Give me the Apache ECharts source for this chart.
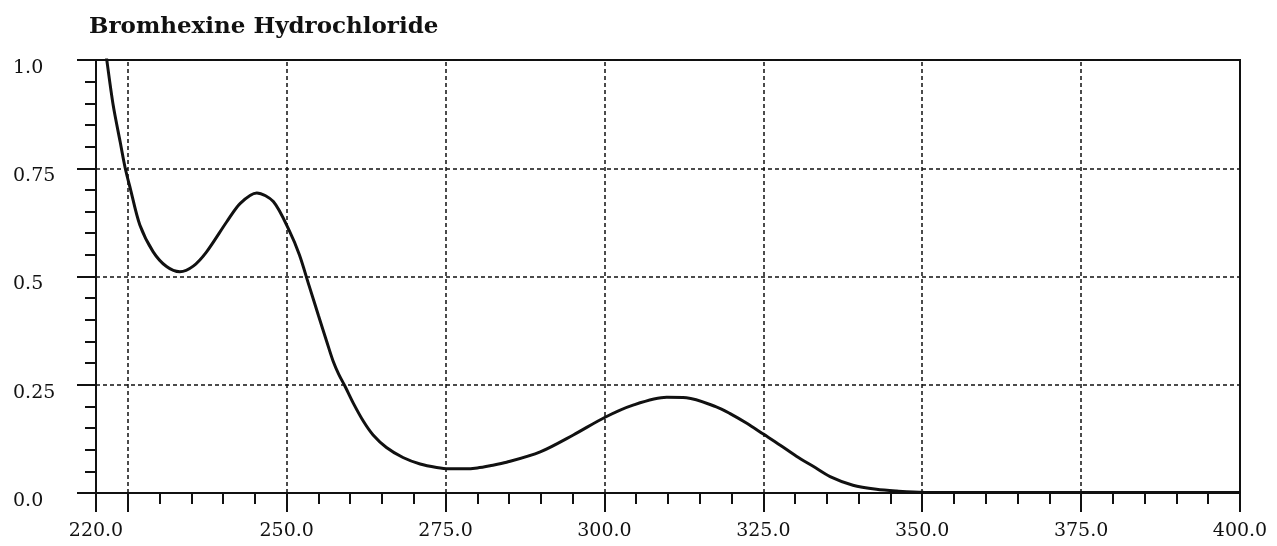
<!DOCTYPE html>
<html>
<head>
<meta charset="utf-8">
<title>Bromhexine Hydrochloride</title>
<script src="https://cdn.jsdelivr.net/npm/echarts@6/dist/echarts.min.js"></script>
<style>
  html, body { margin: 0; padding: 0; background: #fff; }
  #spectrum { width: 1277px; height: 546px; }
</style>
</head>
<body>
<div id="spectrum"></div>
<script>
// absorbance spectrum
var wavelength = [221.2, 221.7, 222.7, 223.8, 224.6, 225.4, 226.9, 229.0, 231.1, 233.2,
    235.3, 237.4, 240.6, 242.7, 245.3, 247.9, 250.5, 252.0, 253.5, 255.0,
    256.3, 257.3, 258.2, 259.2, 260.5, 262.1, 263.6, 265.7, 268.3, 271.0,
    273.6, 275.5, 278.0, 280.0, 282.0, 284.6, 289.9, 295.1, 300.1, 304.5,
    309.8, 312.9, 317.6, 319.7, 322.4, 325.0, 327.6, 330.2, 332.9, 335.5,
    339.1, 342.8, 346.0, 350.2, 360.0, 375.0, 400.0];
var absorbance = [1.06, 1.0, 0.896, 0.811, 0.75, 0.703, 0.619, 0.557, 0.523, 0.511,
    0.524, 0.557, 0.627, 0.669, 0.693, 0.673, 0.603, 0.55, 0.48, 0.41,
    0.35, 0.305, 0.274, 0.246, 0.207, 0.165, 0.134, 0.105, 0.082, 0.067,
    0.059, 0.056, 0.056, 0.058, 0.063, 0.071, 0.095, 0.134, 0.175, 0.203,
    0.221, 0.22, 0.199, 0.184, 0.161, 0.136, 0.111, 0.085, 0.061, 0.038,
    0.018, 0.0085, 0.0046, 0.0016, 0.0012, 0.0012, 0.0012];

var xLabelValues = [220, 250, 275, 300, 325, 350, 375, 400];
var xMajorTicks = [220, 225, 250, 275, 300, 325, 350, 375, 400];
var xGridLines = [225, 250, 275, 300, 325, 350, 375];

var serif = 'DejaVu Serif';
var black = '#111';

var chart = echarts.init(document.getElementById('spectrum'));
chart.setOption({
    animation: false,
    title: {
        text: 'Bromhexine Hydrochloride',
        left: 84,
        top: 11,
        textStyle: { fontFamily: serif, fontWeight: 'bold', fontSize: 23, color: black }
    },
    grid: {
        left: 96, right: 37, top: 60, bottom: 53,
        show: true, borderColor: black, borderWidth: 2
    },
    xAxis: [{
        type: 'value',
        min: 220, max: 400, interval: 5,
        axisLine: { lineStyle: { color: black, width: 2 } },
        axisTick: { length: 11, lineStyle: { color: black, width: 2 } },
        axisLabel: {
            margin: 29,
            fontFamily: serif, fontSize: 19, color: black,
            formatter: function (v) {
                return xLabelValues.indexOf(v) >= 0 ? v.toFixed(1) : '';
            }
        },
        splitLine: { show: false }
    }, {
        type: 'value',
        position: 'bottom',
        min: 220, max: 400,
        axisLine: { show: false },
        axisTick: { show: true, length: 19, customValues: xMajorTicks, lineStyle: { color: black, width: 2 } },
        axisLabel: { show: false },
        splitLine: { show: false }
    }],
    yAxis: {
        type: 'value',
        min: 0, max: 1, interval: 0.25,
        axisLine: { show: true, lineStyle: { color: black, width: 2 } },
        axisTick: { show: true, length: 19, lineStyle: { color: black, width: 2 } },
        minorTick: { show: true, splitNumber: 5, length: 11, lineStyle: { color: black, width: 2 } },
        axisLabel: {
            align: 'left',
            verticalAlign: 'top',
            lineHeight: 16,
            margin: 83,
            fontFamily: serif, fontSize: 19, color: black,
            formatter: function (v) {
                return (v === 0 || v === 1) ? v.toFixed(1) : String(v);
            }
        },
        splitLine: { show: true, lineStyle: { color: black, width: 1.5, type: [4, 3] } }
    },
    series: [{
        type: 'line',
        data: wavelength.map(function (w, i) { return [w, absorbance[i]]; }),
        showSymbol: false,
        smooth: 0.3,
        clip: true,
        lineStyle: { color: black, width: 3 },
        markLine: {
            silent: true,
            symbol: 'none',
            label: { show: false },
            lineStyle: { color: black, width: 1.5, type: [4, 3] },
            data: xGridLines.map(function (v) { return { xAxis: v }; })
        }
    }]
});
</script>
</body>
</html>
